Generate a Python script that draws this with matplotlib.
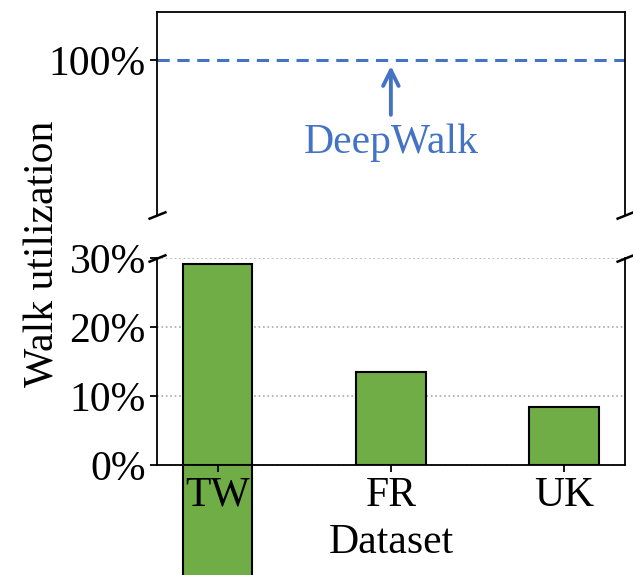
import matplotlib
matplotlib.use("Agg")
import matplotlib.pyplot as plt

datasets = ["TW", "FR", "UK"]
utilization = [29.2, 13.5, 8.4]
deepwalk = 100

plt.rcParams['font.family'] = ['Liberation Serif', 'DejaVu Serif']
plt.rcParams['font.size'] = 30

green = "#70AD47"
blue = "#4472C4"

fig = plt.figure(figsize=(6.33, 5.75), dpi=100)
ax_top = fig.add_axes([0.248, 0.626, 0.739, 0.353])
ax_bot = fig.add_axes([0.248, 0.191, 0.739, 0.360])

x = range(len(datasets))

# the TW bar leaks out of the top axes in the original
ax_top.bar(list(x)[:1], utilization[:1], width=0.4, color=green,
           edgecolor="black", linewidth=1.5, clip_on=False, zorder=1)
ax_top.axhline(deepwalk, color=blue, linestyle="--", linewidth=2.2, dashes=(4, 2.5))
ax_top.annotate("DeepWalk", xy=(1, 98.9), xytext=(1, 84.6), color=blue,
                ha="center", va="center",
                arrowprops=dict(arrowstyle="->", color=blue, lw=2.8,
                                mutation_scale=28, shrinkA=4, shrinkB=0))
ax_top.set_ylim(71, 109)
ax_top.set_yticks([100])
ax_top.set_yticklabels(["100%"])
ax_top.set_xlim(-0.35, 2.35)
ax_top.set_xticks([])
ax_top.spines["bottom"].set_visible(False)

ax_bot.bar(x, utilization, width=0.4, color=green, edgecolor="black",
           linewidth=1.5, zorder=3)
ax_bot.set_ylim(0, 30)
ax_bot.set_yticks([0, 10, 20, 30])
ax_bot.set_yticklabels(["0%", "10%", "20%", "30%"])
ax_bot.set_xlim(-0.35, 2.35)
ax_bot.set_xticks(list(x))
ax_bot.set_xticklabels(datasets)
ax_bot.set_xlabel("Dataset", labelpad=6)
ax_bot.spines["top"].set_visible(False)
ax_bot.grid(axis="y", linestyle=":", color="#aaaaaa", linewidth=1.2)

for ax in (ax_top, ax_bot):
    for s in ax.spines.values():
        s.set_linewidth(1.3)
    ax.tick_params(width=1.3, length=5, pad=3)

# break marks
kw = dict(marker=[(-1, -0.4), (1, 0.4)], markersize=13, linestyle="none",
          color="k", mec="k", mew=1.8, clip_on=False)
ax_top.plot([0, 1], [0, 0], transform=ax_top.transAxes, **kw)
ax_bot.plot([0, 1], [1, 1], transform=ax_bot.transAxes, **kw)

fig.text(0.068, 0.558, "Walk utilization", rotation=90, ha="center", va="center")

fig.savefig("out.png", dpi=100)
